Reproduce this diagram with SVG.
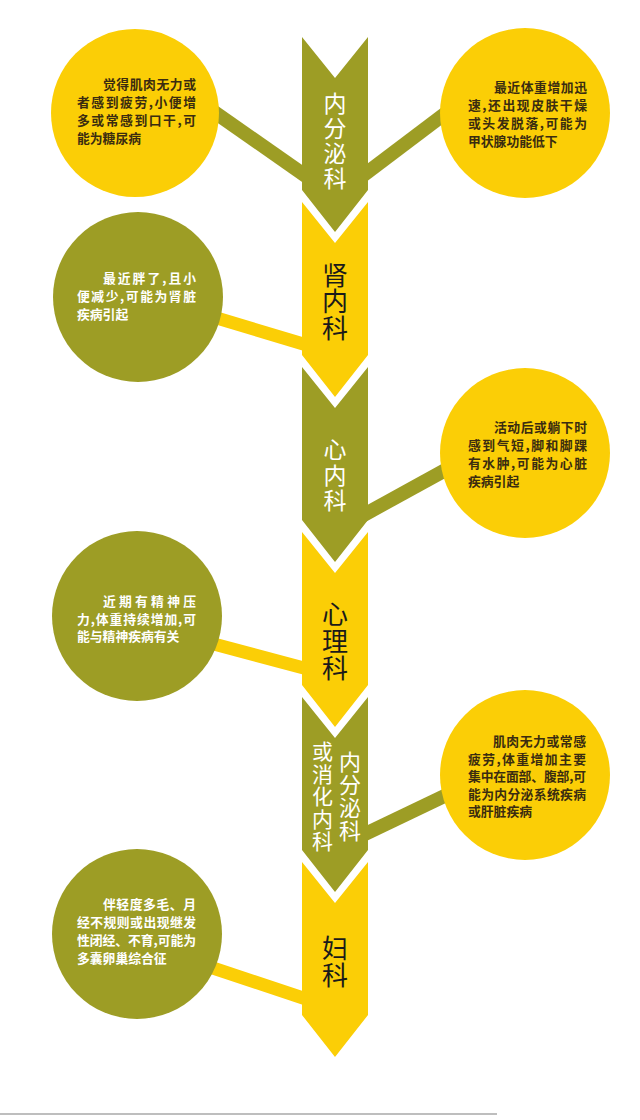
<svg xmlns="http://www.w3.org/2000/svg" width="640" height="1120" viewBox="0 0 640 1120">
<style>
.bg{fill:#ffffff}
.fo{fill:#9d9d25}
.fy{fill:#fbce06}
.co{stroke:#9d9d25;stroke-width:14;fill:none}
.cy{stroke:#fbce06;stroke-width:13;fill:none}
.ct{font-family:"Noto Sans CJK SC","Noto Sans",sans-serif;font-size:12.8px;font-weight:bold}
.dk{fill:#3a2c10}
.wt{fill:#ffffff}
.at{font-family:"Noto Sans CJK SC","Noto Sans",sans-serif;writing-mode:vertical-rl;text-orientation:upright}
.atw{fill:#ffffff}
.atk{fill:#1a1a1a}
</style>
<rect class="bg" x="0" y="0" width="640" height="1120"/>

<g id="connectors">
<line class="co" x1="180" y1="88" x2="330" y2="193"/>
<line class="co" x1="340" y1="193" x2="475" y2="91"/>
<line class="cy" x1="180" y1="307" x2="330" y2="352"/>
<line class="co" x1="340" y1="528" x2="480" y2="451"/>
<line class="cy" x1="180" y1="635" x2="330" y2="675"/>
<line class="co" x1="340" y1="846" x2="480" y2="779"/>
<line class="cy" x1="180" y1="957" x2="330" y2="1007"/>
</g>

<g id="arrow1">
<polygon class="fo" points="302,37 335,78 368,37 368,190 335,232 302,190"/>
<text class="at atw" font-size="23" letter-spacing="2" x="335" y="91.5">内分泌科</text>
</g>
<g id="arrow2">
<polygon class="fy" points="302,202 335,243 368,202 368,355 335,397 302,355"/>
<text class="at atk" font-size="26" letter-spacing="0.5" x="335" y="262">肾内科</text>
</g>
<g id="arrow3">
<polygon class="fo" points="302,367 335,408 368,367 368,520 335,562 302,520"/>
<text class="at atw" font-size="23" letter-spacing="2.5" x="335" y="438">心内科</text>
</g>
<g id="arrow4">
<polygon class="fy" points="302,532 335,573 368,532 368,685 335,727 302,685"/>
<text class="at atk" font-size="26" letter-spacing="1" x="335" y="601.5">心理科</text>
</g>
<g id="arrow5">
<polygon class="fo" points="302,697 335,738 368,697 368,850 335,892 302,850"/>
<text class="at atw" font-size="21" letter-spacing="1.6" x="322.5" y="740.5">或消化内科</text>
<text class="at atw" font-size="22" letter-spacing="1" x="350" y="751">内分泌科</text>
</g>
<g id="arrow6">
<polygon class="fy" points="302,862 335,903 368,862 368,1015 335,1057 302,1015"/>
<text class="at atk" font-size="26" letter-spacing="0.5" x="335" y="935.5">妇科</text>
</g>

<g id="circle1">
<circle class="fy" cx="135" cy="113" r="84"/>
<text class="ct dk" x="103" y="89" textLength="93" lengthAdjust="spacing">觉得肌肉无力或</text>
<text class="ct dk" x="77" y="107" textLength="119" lengthAdjust="spacing">者感到疲劳,小便增</text>
<text class="ct dk" x="77" y="125" textLength="119" lengthAdjust="spacing">多或常感到口干,可</text>
<text class="ct dk" x="77" y="143">能为糖尿病</text>
</g>
<g id="circle2">
<circle class="fy" cx="525" cy="113" r="85"/>
<text class="ct dk" x="494" y="92" textLength="93" lengthAdjust="spacing">最近体重增加迅</text>
<text class="ct dk" x="468" y="110" textLength="119" lengthAdjust="spacing">速,还出现皮肤干燥</text>
<text class="ct dk" x="468" y="128" textLength="119" lengthAdjust="spacing">或头发脱落,可能为</text>
<text class="ct dk" x="468" y="146">甲状腺功能低下</text>
</g>
<g id="circle3">
<circle class="fo" cx="138" cy="297" r="85"/>
<text class="ct wt" x="103" y="283" textLength="93" lengthAdjust="spacing">最近胖了,且小</text>
<text class="ct wt" x="77" y="301" textLength="119" lengthAdjust="spacing">便减少,可能为肾脏</text>
<text class="ct wt" x="77" y="319">疾病引起</text>
</g>
<g id="circle4">
<circle class="fy" cx="525" cy="453" r="85"/>
<text class="ct dk" x="494" y="432" textLength="93" lengthAdjust="spacing">活动后或躺下时</text>
<text class="ct dk" x="468" y="450" textLength="119" lengthAdjust="spacing">感到气短,脚和脚踝</text>
<text class="ct dk" x="468" y="468" textLength="119" lengthAdjust="spacing">有水肿,可能为心脏</text>
<text class="ct dk" x="468" y="486">疾病引起</text>
</g>
<g id="circle5">
<circle class="fo" cx="137" cy="616" r="85"/>
<text class="ct wt" x="103" y="606" textLength="93" lengthAdjust="spacing">近期有精神压</text>
<text class="ct wt" x="77" y="624" textLength="119" lengthAdjust="spacing">力,体重持续增加,可</text>
<text class="ct wt" x="77" y="641">能与精神疾病有关</text>
</g>
<g id="circle6">
<circle class="fy" cx="525" cy="775" r="85"/>
<text class="ct dk" x="493" y="746" textLength="93" lengthAdjust="spacing">肌肉无力或常感</text>
<text class="ct dk" x="468" y="764" textLength="118" lengthAdjust="spacing">疲劳,体重增加主要</text>
<text class="ct dk" x="468" y="781" textLength="118" lengthAdjust="spacing">集中在面部、腹部,可</text>
<text class="ct dk" x="468" y="799" textLength="118" lengthAdjust="spacing">能为内分泌系统疾病</text>
<text class="ct dk" x="468" y="816">或肝脏疾病</text>
</g>
<g id="circle7">
<circle class="fo" cx="137" cy="934" r="85"/>
<text class="ct wt" x="103" y="909" textLength="93" lengthAdjust="spacing">伴轻度多毛、月</text>
<text class="ct wt" x="77" y="927" textLength="119" lengthAdjust="spacing">经不规则或出现继发</text>
<text class="ct wt" x="77" y="945" textLength="119" lengthAdjust="spacing">性闭经、不育,可能为</text>
<text class="ct wt" x="77" y="963">多囊卵巢综合征</text>
</g>

<line x1="0" y1="1114" x2="497" y2="1114" stroke="#a8a8a8" stroke-width="1.5"/>
</svg>
